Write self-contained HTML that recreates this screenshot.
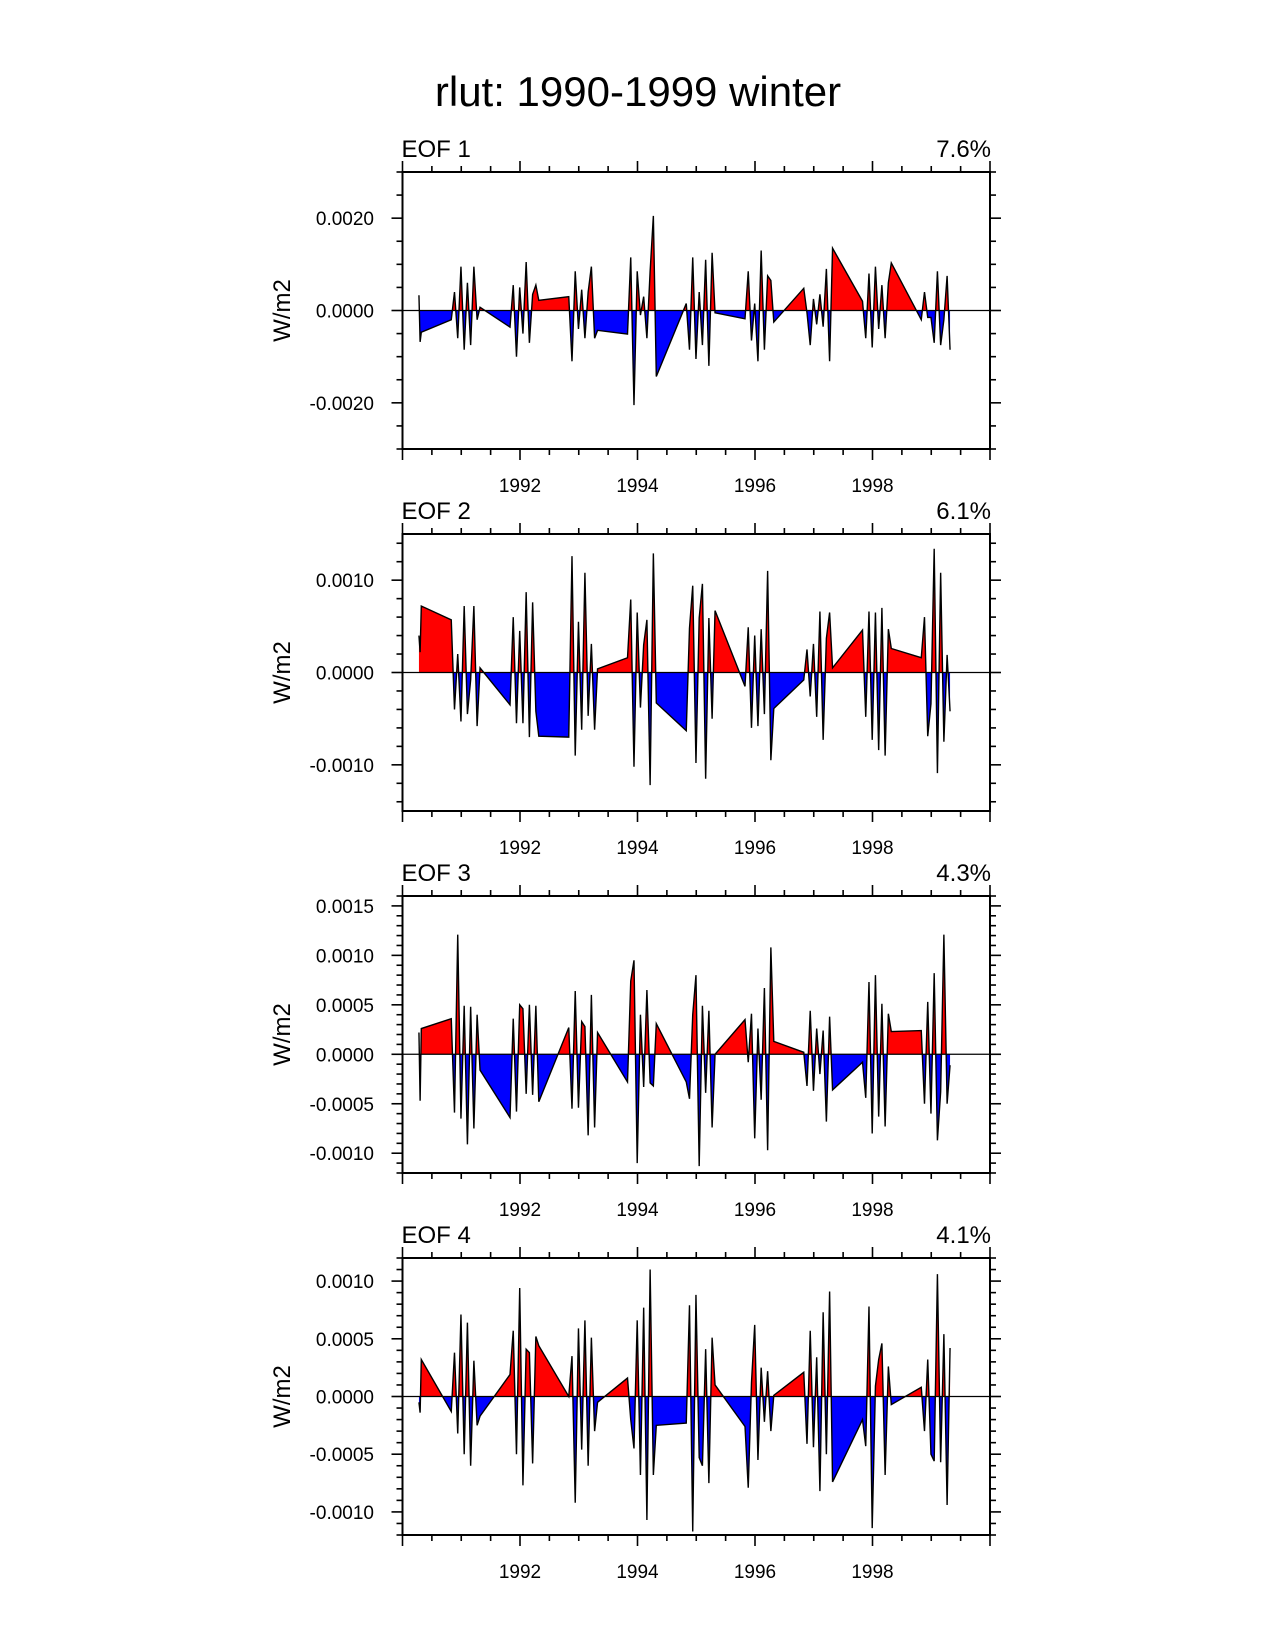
<!DOCTYPE html>
<html><head><meta charset="utf-8"><style>
html,body{margin:0;padding:0;background:#fff;}
svg{display:block;font-family:"Liberation Sans",Arial,sans-serif;}
</style></head><body>
<svg id="chart" width="1275" height="1650" viewBox="0 0 1275 1650" xmlns="http://www.w3.org/2000/svg">
<text x="638" y="106" font-size="42" text-anchor="middle">rlut: 1990-1999 winter</text>
</svg>
<script>
// ---- data (units of 1e-4 W/m2) ----
const winters = [1990,1991,1992,1993,1994,1995,1996,1997,1998,1999];
const firstWinterOffsets = [0.28,0.30,0.32];
const winterOffsets = [-0.17,-0.115,-0.06,-0.005,0.05,0.105,0.16,0.215,0.27,0.32];
const eofLabels = ["EOF 1","EOF 2","EOF 3","EOF 4"];
const eofPercents = ["7.6%","6.1%","4.3%","4.1%"];
const xTickYears = [1992,1994,1996,1998];
const eof1 = [3.3,-6.8,-4.7,
 -2,4,-6,9.5,-8.5,6,-7.5,9.5,-2,0.7,
 -3.6,5.5,-10,5,-5,10.5,-7,3.5,5.5,2.2,
 3,-11,8.5,-4,4.5,-6,4,9.5,-6,-4.3,
 -5.1,11.5,-20.5,8.5,-1,3,-6,8.5,20.5,-14.3,
 1.5,-8.5,11.5,-10.5,4,-7.5,11,-12,12.5,-0.5,
 -1.8,8.5,-6.5,1.5,-11,13,-8.5,7.5,6.5,-2.5,
 4.8,-0.5,-7.5,2.5,-3,3.5,-3.5,9,-11,13.5,
 2,-6,8,-8,9.5,-4,5.5,-6,6,10.3,
 -2,4,-1.5,-1.5,-7,8.5,-7.5,-2,7.5,-8.5];
const eof2 = [4,2.2,7.2,
 5.7,-4,2,-5.3,7.2,-4.5,-0.8,7.2,-5.8,0.5,
 -3.5,6,-5.5,4.5,-5.5,8.7,-7,7.6,-4.2,-6.9,
 -7,12.6,-9,5.5,-6.2,10.8,-4.7,3.1,-6.2,0.4,
 1.6,7.9,-10.2,6.5,-3.8,3,5.7,-12.2,12.9,-3.3,
 -6.3,4.8,9.4,-9.8,5.9,9.6,-11.5,5.9,-5,6.7,
 -1.5,4.9,-6,4,-5.8,4.7,-4.5,11,-9.5,-3.9,
 -0.8,2.5,-2.6,3.1,-4.8,6.6,-7.3,3.7,6.5,0.5,
 4.6,-4.8,6.6,-7.3,6.5,-8.4,7,-9,4.7,2.6,
 1.6,6,-6.9,-3.4,13.4,-10.9,10.8,-7.5,1.9,-4.2];
const eof3 = [2.2,-4.7,2.6,
 3.6,-5.9,12.1,-6.5,4.9,-9.1,4.8,-7.5,4,-1.6,
 -6.4,3.6,-5.8,5,4.6,-4,5,-4.1,4.9,-4.8,
 2.7,-5.5,6.4,-5.4,3.3,2.8,-8.2,6,-7.4,2.2,
 -2.8,7.4,9.5,-11,4,-3.3,6.5,-2.9,-3.2,3.1,
 -2.8,-4.5,4,8,-11.3,4.9,-3.9,4.4,-7.4,0,
 3.5,-0.8,4.1,-8.5,2.6,-4.6,6.7,-9.7,10.8,1.3,
 0.2,-3.2,4.4,-3.7,2.6,-2,2.4,-6.8,3.8,-3.6,
 -0.8,-4.4,7.3,-8,8,-6.3,5.1,-7.3,4.1,2.3,
 2.4,-5,5.3,-6,8.2,-8.7,-3.8,12.1,-5,-1.1];
const eof4 = [-0.5,-1.4,3.2,
 -1.3,3.8,-3.2,7.1,-5,6.4,-6,3.1,-2.5,-1.7,
 1.9,5.7,-5,9.4,-7.7,4.1,3.8,-5.8,5.2,4.4,
 0,3.5,-9.2,5.9,-4.6,6.6,-6,5.1,-3,-0.5,
 1.6,-2,-4.5,6.6,-6.8,7.7,-10.7,11,-6.8,-2.5,
 -2.3,7.9,-11.7,8.8,-5.3,-6,4.1,-7.5,5.1,1,
 -2.6,-7.9,1.2,6.2,-5.5,2.5,-2.2,2.2,-3,0.1,
 2.1,-4.1,5.7,-4.4,3.4,-8.2,7.3,-5,9.1,-7.4,
 -2,-4.3,7.8,-11.4,0.9,3.2,4.6,-6.8,2.6,-0.7,
 0.8,-3,3.2,-5,-5.6,10.6,-5.7,5.4,-9.4,4.2];
const eofSeries = [eof1,eof2,eof3,eof4];
const yMins = [-30,-15,-12,-12];
const yMaxs = [30,15,16,12];
const yMajorSteps = [20,10,5,5];
const yMinorSteps = [5,2,1,1];
const yLabelTicks1 = [20,0,-20];
const yLabelTicks2 = [10,0,-10];
const yLabelTicks3 = [15,10,5,0,-5,-10];
const yLabelTicks4 = [10,5,0,-5,-10];
const yLabelTicks = [yLabelTicks1,yLabelTicks2,yLabelTicks3,yLabelTicks4];

// times
const times = [];
firstWinterOffsets.forEach(o => times.push(winters[0] + o));
winters.slice(1).forEach(w => winterOffsets.forEach(o => times.push(w + o)));

// ---- layout ----
const NS = "http://www.w3.org/2000/svg";
const svg = document.getElementById('chart');
const L = 402.5, R = 990, PH = 277, TOP0 = 172, GAP = 362;
function xs(t){ return L + (t - 1990) / 10 * (R - L); }
function mk(tag, attrs, parent){
  const e = document.createElementNS(NS, tag);
  for (const k in attrs) e.setAttribute(k, attrs[k]);
  (parent || svg).appendChild(e);
  return e;
}
function fmt(v){
  const s = (Math.abs(v) * 1e-4).toFixed(4);
  return (v < -1e-9 ? "-" : "") + s;
}

eofSeries.forEach((vals, p) => {
  const top = TOP0 + p * GAP, bot = top + PH;
  const ymin = yMins[p], ymax = yMaxs[p];
  const ys = v => bot - (v - ymin) / (ymax - ymin) * PH;
  const g = mk('g', {});
  
  
  const y0 = ys(0);

  const defs = mk('defs', {}, g);
  const cpUp = mk('clipPath', {id: 'up' + p}, defs);
  mk('rect', {x: L, y: top, width: R - L, height: y0 - top}, cpUp);
  const cpDn = mk('clipPath', {id: 'dn' + p}, defs);
  mk('rect', {x: L, y: y0, width: R - L, height: bot - y0}, cpDn);

  let pts = vals.map((v, i) => xs(times[i]).toFixed(2) + ',' + ys(v).toFixed(2));
  const area = 'M' + xs(times[0]).toFixed(2) + ',' + y0 + ' L' + pts.join(' L') + ' L' + xs(times[vals.length - 1]).toFixed(2) + ',' + y0 + ' Z';
  const pos = mk('path', {d: area, fill: '#ff0000', 'clip-path': 'url(#up' + p + ')'}, g);
  
  
  const neg = mk('path', {d: area, fill: '#0000ff', 'clip-path': 'url(#dn' + p + ')'}, g);
  
  
  const zl = mk('line', {x1: L, x2: R, y1: y0, y2: y0, stroke: '#000', 'stroke-width': 1.2}, g);
  
  
  const ln = mk('polyline', {points: pts.join(' '), fill: 'none', stroke: '#000', 'stroke-width': 1.4, 'stroke-linejoin': 'miter'}, g);
  
  

  const fr = mk('rect', {x: L, y: top, width: R - L, height: PH, fill: 'none', stroke: '#000', 'stroke-width': 2}, g);
  
  

  for (let k = 0; k <= 20; k++) {
    const t = 1990 + k * 0.5;
    const major = (k % 4 === 0);
    const len = major ? 11 : 6;
    const x = xs(t);
    mk('line', {x1: x, x2: x, y1: bot, y2: bot + len, stroke: '#000', 'stroke-width': 1.6}, g);
    mk('line', {x1: x, x2: x, y1: top, y2: top - len, stroke: '#000', 'stroke-width': 1.6}, g);
  }
  xTickYears.forEach(yr => {
    const tl = mk('text', {x: xs(yr), y: bot + 43, 'font-size': 19, 'text-anchor': 'middle'}, g);
    tl.textContent = yr;
    
    
  });
  const mStep = yMinorSteps[p];
  for (let v = Math.ceil(ymin / mStep) * mStep; v <= ymax + 1e-9; v += mStep) {
    const isMajor = Math.abs(Math.round(v / yMajorSteps[p]) * yMajorSteps[p] - v) < 1e-6;
    const len = isMajor ? 11 : 6;
    const y = ys(v);
    mk('line', {x1: L, x2: L - len, y1: y, y2: y, stroke: '#000', 'stroke-width': 1.6}, g);
    mk('line', {x1: R, x2: R + len, y1: y, y2: y, stroke: '#000', 'stroke-width': 1.6}, g);
  }
  yLabelTicks[p].forEach(v => {
    const tl = mk('text', {x: 374, y: ys(v) + 7, 'font-size': 19, 'text-anchor': 'end'}, g);
    tl.textContent = fmt(v);
    
    
  });
  const yt = mk('text', {x: 0, y: 0, 'font-size': 24, 'text-anchor': 'middle', transform: 'translate(290,' + (top + PH / 2) + ') rotate(-90)'}, g);
  yt.textContent = 'W/m2';
  
  
  const el = mk('text', {x: L - 1, y: top - 15, 'font-size': 24}, g);
  el.textContent = eofLabels[p];
  
  
  const pc = mk('text', {x: R + 1, y: top - 15, 'font-size': 24, 'text-anchor': 'end'}, g);
  pc.textContent = eofPercents[p];
  
  
});
</script>
</body></html>
